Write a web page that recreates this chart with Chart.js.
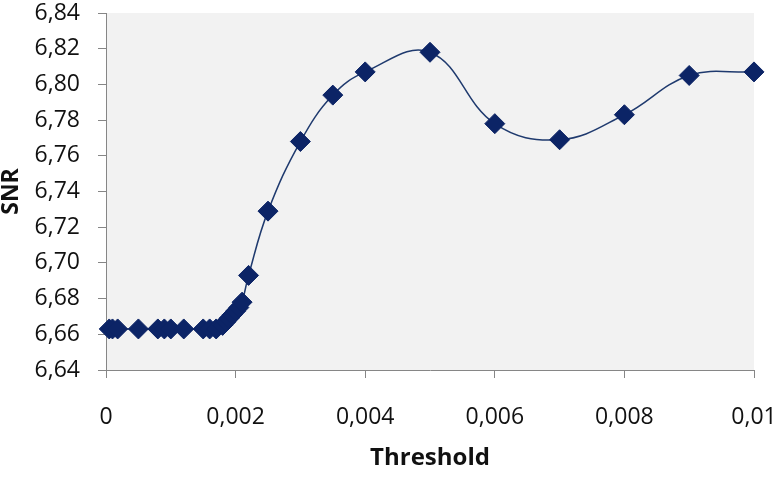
<!DOCTYPE html>
<html>
<head>
<meta charset="utf-8">
<script src="https://cdn.jsdelivr.net/npm/chart.js@4/dist/chart.umd.min.js"></script>
<style>
  html, body { margin: 0; padding: 0; background: #fff; }
  #wrap { width: 774px; height: 480px; }
</style>
</head>
<body>
<div id="wrap"><canvas id="snrChart" width="774" height="480"></canvas></div>
<script>
// threshold (x) and SNR (y)
const thresholds = [0.00005, 0.0001, 0.00018, 0.0005, 0.0008, 0.0009, 0.001, 0.0012,
  0.0015, 0.0016, 0.0017, 0.0018, 0.00185, 0.0019, 0.00195, 0.002, 0.00205, 0.0021,
  0.0022, 0.0025, 0.003, 0.0035, 0.004, 0.005, 0.006, 0.007, 0.008, 0.009, 0.01];
const snr = [6.663, 6.663, 6.663, 6.663, 6.663, 6.663, 6.663, 6.663,
  6.663, 6.663, 6.663, 6.665, 6.667, 6.669, 6.671, 6.673, 6.675, 6.678,
  6.693, 6.729, 6.768, 6.794, 6.807, 6.818, 6.778, 6.769, 6.783, 6.805, 6.807];
const xTicks = [0, 0.002, 0.004, 0.006, 0.008, 0.01];
const yTicks = [6.64, 6.66, 6.68, 6.70, 6.72, 6.74, 6.76, 6.78, 6.80, 6.82, 6.84];

const navy = '#0c2466';

// light gray plot area like the original
const plotBg = {
  id: 'plotBg',
  beforeDraw(chart) {
    const { ctx, chartArea: a } = chart;
    ctx.save();
    ctx.fillStyle = '#f2f2f2';
    ctx.fillRect(a.left, a.top, a.right - a.left, a.bottom - a.top);
    ctx.restore();
  }
};

const ctx = document.getElementById('snrChart');
new Chart(ctx, {
  type: 'scatter',
  data: {
    datasets: [{
      data: thresholds.map((t, i) => ({ x: t, y: snr[i] })),
      showLine: true,
      tension: 0.4,
      borderColor: '#1f3a6e',
      borderWidth: 1.5,
      pointStyle: 'rectRot',
      pointRadius: 10,
      pointBackgroundColor: navy,
      pointBorderColor: navy,
      pointBorderWidth: 1,
      clip: false
    }]
  },
  options: {
    responsive: false,
    animation: false,
    layout: { autoPadding: false, padding: { top: 13, right: 20, left: 0, bottom: 0 } },
    plugins: { legend: { display: false }, tooltip: { enabled: false } },
    scales: {
      x: {
        type: 'linear',
        min: 0,
        max: 0.01,
        afterFit(scale) {
          scale.height = 110;
          scale.paddingLeft = 0;
          scale.paddingRight = 0;
        },
        afterBuildTicks(scale) { scale.ticks = xTicks.map(v => ({ value: v })); },
        border: { color: '#868686', width: 1 },
        grid: { drawOnChartArea: false, tickLength: 8, color: '#868686' },
        ticks: {
          padding: 26,
          color: '#111',
          font: { family: 'Open Sans', size: 23 },
          maxRotation: 0,
          callback: v => String(+v.toFixed(4)).replace('.', ',')
        },
        title: {
          display: true,
          text: 'Threshold',
          color: '#111',
          font: { family: 'Open Sans', size: 24, weight: 'bold' },
          padding: { top: 0, bottom: 7 }
        }
      },
      y: {
        min: 6.64,
        max: 6.84,
        afterFit(scale) {
          scale.width = 106;
          scale.paddingTop = 0;
          scale.paddingBottom = 0;
        },
        afterBuildTicks(scale) { scale.ticks = yTicks.map(v => ({ value: v })); },
        border: { color: '#868686', width: 1 },
        grid: { drawOnChartArea: false, tickLength: 8, color: '#868686' },
        ticks: {
          padding: 18,
          color: '#111',
          font: { family: 'Open Sans', size: 23 },
          callback: v => v.toFixed(2).replace('.', ',')
        },
        title: {
          display: true,
          text: 'SNR',
          color: '#111',
          font: { family: 'Open Sans', size: 23, weight: 'bold', lineHeight: 1 },
          padding: { top: 0, bottom: 0 }
        }
      }
    }
  },
  plugins: [plotBg]
});
</script>
</body>
</html>
